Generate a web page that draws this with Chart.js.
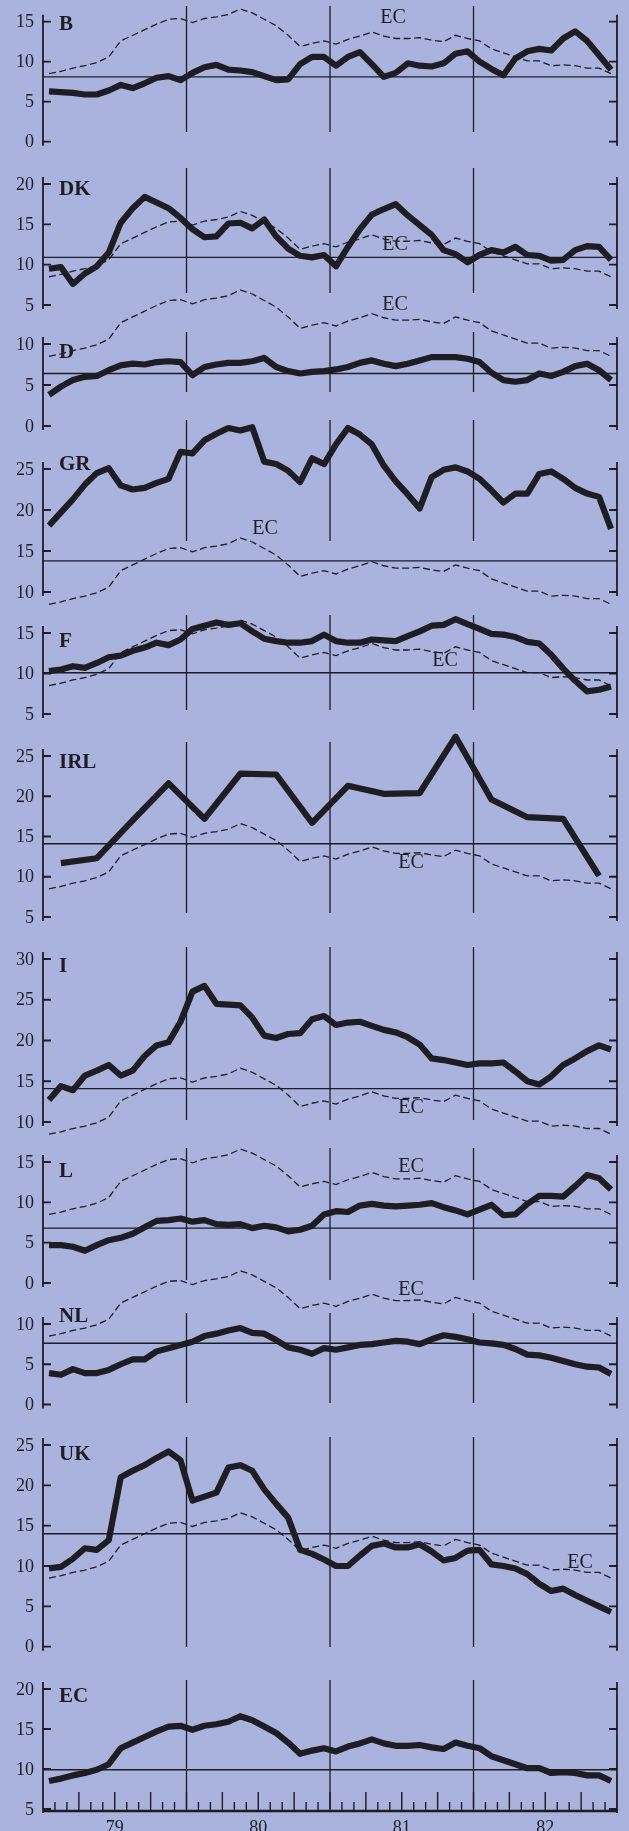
<!DOCTYPE html>
<html>
<head>
<meta charset="utf-8">
<script src="https://cdn.jsdelivr.net/npm/chart.js@4.4.1/dist/chart.umd.min.js"></script>
<style>
html, body { margin:0; padding:0; background:#a9b3de; }
#wrap { position:relative; width:629px; height:1831px; }
</style>
</head>
<body>
<div id="wrap"><canvas id="myChart" width="629" height="1831"></canvas></div>
<script>
// monthly values, Jan 79 .. Dec 82
var ec = [8.5,8.8,9.2,9.5,9.9,10.6,12.6,13.3,14.0,14.7,15.3,15.4,
          14.9,15.4,15.6,15.9,16.6,16.1,15.3,14.5,13.3,11.9,12.3,12.6,
          12.2,12.8,13.2,13.7,13.2,12.9,12.9,13.0,12.7,12.5,13.3,12.9,
          12.6,11.6,11.1,10.6,10.1,10.1,9.5,9.6,9.5,9.2,9.2,8.5]
var b = [6.3,6.2,6.1,5.9,5.9,6.4,7.1,6.7,7.3,8.0,8.2,7.7,
         8.6,9.3,9.6,9.0,8.9,8.7,8.2,7.7,7.8,9.7,10.6,10.6,
         9.5,10.6,11.2,9.7,8.1,8.6,9.8,9.5,9.4,9.8,11.0,11.3,
         10.0,9.1,8.3,10.4,11.3,11.6,11.4,12.9,13.8,12.6,10.8,9.0]
var dk = [9.5,9.7,7.6,8.9,9.8,11.5,15.2,17.0,18.4,17.7,17.0,15.8,
          14.4,13.4,13.5,15.1,15.2,14.5,15.6,13.5,12.0,11.1,10.9,11.2,
          9.8,12.2,14.4,16.2,16.9,17.5,16.1,14.9,13.7,11.8,11.3,10.3,
          11.2,11.8,11.5,12.2,11.2,11.1,10.5,10.6,11.8,12.3,12.2,10.6]
var d = [3.8,4.8,5.6,6.0,6.1,6.8,7.4,7.6,7.5,7.8,7.9,7.8,
         6.2,7.2,7.5,7.7,7.7,7.9,8.3,7.2,6.7,6.4,6.6,6.7,
         6.9,7.2,7.7,8.0,7.6,7.3,7.6,8.0,8.4,8.4,8.4,8.2,
         7.8,6.5,5.6,5.4,5.6,6.4,6.1,6.6,7.3,7.6,6.8,5.6]
var gr = [18.1,19.7,21.3,23.1,24.5,25.1,23.0,22.5,22.7,23.3,23.8,27.1,
          26.9,28.5,29.3,30.0,29.7,30.1,25.9,25.6,24.8,23.4,26.3,25.6,
          28.0,30.0,29.2,28.0,25.4,23.5,21.9,20.2,24.0,24.9,25.2,24.7,
          23.8,22.4,20.9,22.0,22.0,24.4,24.7,23.8,22.7,22.0,21.6,17.7]
var f = [10.3,10.5,10.9,10.7,11.3,12.0,12.2,12.8,13.2,13.8,13.5,14.2,
         15.5,15.9,16.3,16.0,16.2,15.2,14.3,14.0,13.8,13.8,14.0,14.8,
         14.0,13.8,13.8,14.2,14.1,14.0,14.6,15.2,15.9,16.0,16.7,16.1,
         15.5,14.9,14.8,14.5,13.9,13.7,12.3,10.6,9.1,7.8,8.0,8.4]
// quarterly
var irl = [11.7,12.3,17.0,21.6,17.2,22.8,22.7,16.7,21.3,20.3,20.4,27.4,19.6,17.4,17.2,10.1]
var it = [12.7,14.4,13.9,15.7,16.3,17.0,15.7,16.3,18.1,19.4,19.8,22.3,
          26.0,26.7,24.5,24.4,24.3,22.8,20.6,20.3,20.8,20.9,22.6,23.0,
          21.9,22.2,22.3,21.8,21.3,21.0,20.4,19.5,17.8,17.6,17.3,17.0,
          17.2,17.2,17.3,16.2,15.0,14.6,15.6,17.0,17.8,18.7,19.4,18.9]
var l = [4.7,4.7,4.5,4.0,4.7,5.3,5.6,6.1,6.9,7.7,7.8,8.0,
         7.6,7.8,7.3,7.2,7.3,6.8,7.1,6.9,6.4,6.6,7.1,8.5,
         8.9,8.8,9.6,9.8,9.6,9.5,9.6,9.7,9.9,9.4,9.0,8.5,
         9.1,9.7,8.4,8.5,9.8,10.8,10.8,10.7,12.0,13.4,13.0,11.6]
var nl = [3.9,3.7,4.4,3.9,3.9,4.3,5.0,5.6,5.6,6.6,7.0,7.4,
          7.8,8.5,8.8,9.2,9.5,8.9,8.8,8.0,7.1,6.8,6.3,7.0,
          6.8,7.1,7.4,7.5,7.7,7.9,7.8,7.5,8.1,8.6,8.4,8.1,
          7.7,7.6,7.4,6.9,6.2,6.1,5.8,5.4,5.0,4.7,4.6,3.8]
var uk = [9.7,9.9,10.9,12.2,12.0,13.2,21.0,21.8,22.5,23.4,24.2,23.1,
          18.1,18.6,19.1,22.2,22.5,21.8,19.5,17.7,16.0,12.0,11.5,10.8,
          10.0,10.0,11.3,12.5,12.8,12.3,12.3,12.7,11.8,10.7,11.0,11.9,
          12.0,10.2,10.0,9.7,9.0,7.8,6.9,7.2,6.4,5.7,5.0,4.3]

var panelNames = ["B","DK","D","GR","F","IRL","I","L","NL","UK","EC"]
var series = [b,dk,d,gr,f,irl,it,l,nl,uk,ec]
var refLevels = [8.1,10.9,6.4,13.8,10.1,14.1,14.1,6.8,7.6,14.0,9.9]
var tickSets = [[0,5,10,15],[5,10,15,20],[0,5,10],[10,15,20,25],[5,10,15],[5,10,15,20,25],
                [10,15,20,25,30],[0,5,10,15],[0,5,10],[0,5,10,15,20,25],[5,10,15,20]]
var yearLabels = ["79","80","81","82"]

// layout: pixel rows of lowest/highest tick, year-line extents, label rows, EC tag spots
var rows = [[141.7,21.7],[305,184],[426,344],[592,469],[714,633],[917,756],[1122,959],
            [1283,1162],[1404.5,1324],[1646.7,1445],[1809,1689]]
var vlines = [[6,132],[168,293],[332,392],[420,541],[615,710],[742,913],[947,1120],
              [1148,1280],[1313,1403],[1437,1647],[1680,1809]]
var nameY = [25,190,353,465,642,763,967,1172,1317,1455,1697]
var ecTags = [[393,18],[395,245],[395,305],[265,529],[445,661],[411,863],[411,1108],
              [411,1167],[411,1290],[580,1563],null]

var H = 1831
var INK = "#1d1d22"
var scales = { x: { type:"linear", min:0, max:48, display:false } }
panelNames.forEach(function(name,p){
    var t = tickSets[p]
    var lo = t[0], hi = t[t.length-1]
    var k = (rows[p][0]-rows[p][1])/(hi-lo)
    scales["y"+p] = { type:"linear", display:false, min: lo-(H-rows[p][0])/k, max: hi+rows[p][1]/k }
})

function monthly(vals){ return vals.map(function(v,i){ return {x:i+0.5, y:v} }) }
function quarterly(vals){ return vals.map(function(v,i){ return {x:i*3+1.5, y:v} }) }

var datasets = []
panelNames.forEach(function(name,p){
    datasets.push({
        label:name, yAxisID:"y"+p, order:0,
        data: name=="IRL" ? quarterly(series[p]) : monthly(series[p]),
        borderColor:INK, borderWidth:6.2, borderJoinStyle:"round", pointRadius:0, tension:0
    })
    if(name!="EC"){
        datasets.push({
            label:"EC", yAxisID:"y"+p, order:1, data: monthly(ec),
            borderColor:INK, borderWidth:1.3, borderDash:[7,3.5], pointRadius:0, tension:0
        })
    }
    datasets.push({
        label:"ref", yAxisID:"y"+p, order:2,
        data:[{x:0,y:refLevels[p]},{x:48.3,y:refLevels[p]}],
        borderColor:INK, borderWidth:1.4, pointRadius:0
    })
})

var frame = {
    id:"frame",
    afterDraw:function(chart){
        var c = chart.ctx
        var xs = chart.scales.x
        var L = xs.getPixelForValue(0), R = xs.getPixelForValue(48)
        c.save()
        c.strokeStyle = INK
        c.fillStyle = INK
        panelNames.forEach(function(name,p){
            var ys = chart.scales["y"+p]
            var t = tickSets[p]
            var top = ys.getPixelForValue(t[t.length-1]), bot = ys.getPixelForValue(t[0])
            // axis lines
            c.lineWidth = 1.8
            c.beginPath()
            c.moveTo(L,top-7); c.lineTo(L,bot+4)
            c.moveTo(R,top-7); c.lineTo(R,bot+4)
            c.stroke()
            // inward ticks + labels
            c.font = "18px 'Liberation Serif'"
            c.textAlign = "right"
            c.textBaseline = "middle"
            t.forEach(function(v){
                var y = ys.getPixelForValue(v)
                c.beginPath()
                c.moveTo(L,y); c.lineTo(L+8,y)
                c.moveTo(R,y); c.lineTo(R-8,y)
                c.stroke()
                c.fillText(String(v), L-9, y+1)
            })
            // year dividers
            c.lineWidth = 1.3
            c.beginPath()
            ;[12,24,36].forEach(function(m){
                var x = xs.getPixelForValue(m)
                c.moveTo(x,vlines[p][0]); c.lineTo(x,vlines[p][1])
            })
            c.stroke()
            // panel name
            c.font = "bold 21px 'Liberation Serif'"
            c.textAlign = "left"
            c.fillText(name, 59, nameY[p])
            // EC tag
            if(ecTags[p]){
                c.font = "20px 'Liberation Serif'"
                c.textAlign = "center"
                c.fillText("EC", ecTags[p][0], ecTags[p][1])
            }
        })
        // bottom time axis
        var ys = chart.scales.y10
        var base = ys.getPixelForValue(5)+2
        c.lineWidth = 2.5
        c.beginPath()
        c.moveTo(L,base); c.lineTo(R,base)
        c.stroke()
        c.lineWidth = 1.4
        c.beginPath()
        for(var m=1;m<48;m++){
            var x = xs.getPixelForValue(m)
            c.moveTo(x,base); c.lineTo(x,base-(m%3==0?19:9))
        }
        c.stroke()
        c.font = "18px 'Liberation Serif'"
        c.textAlign = "center"
        c.textBaseline = "top"
        yearLabels.forEach(function(lab,k){
            c.fillText(lab, xs.getPixelForValue(6+k*12), base+8)
        })
        c.restore()
    }
}

new Chart(document.getElementById("myChart"), {
    type:"line",
    data:{ datasets:datasets },
    options:{
        responsive:false,
        animation:false,
        layout:{ padding:{ left:43, right:12, top:0, bottom:0 } },
        plugins:{ legend:{display:false}, tooltip:{enabled:false} },
        scales:scales
    },
    plugins:[frame]
})
</script>
</body>
</html>
